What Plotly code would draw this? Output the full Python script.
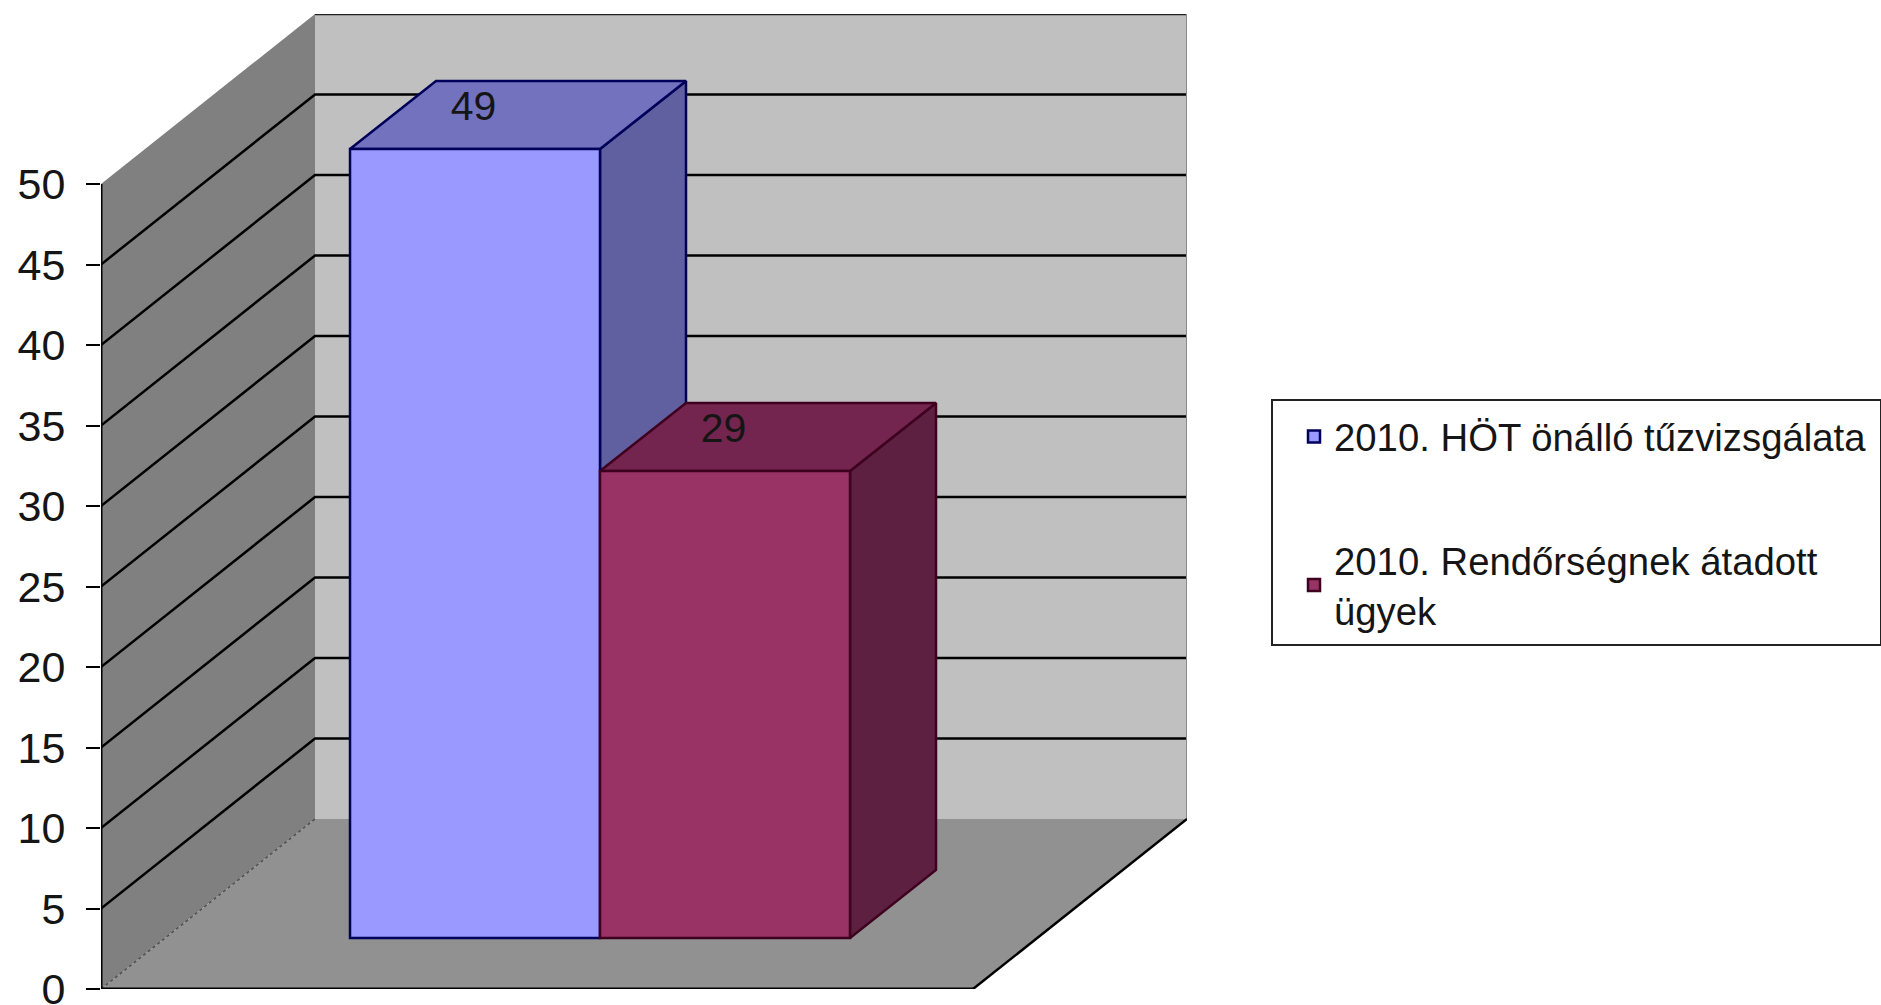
import plotly.graph_objects as go

# --- data ---
series_names = ["2010. HÖT önálló tűzvizsgálata", "2010. Rendőrségnek átadott<br>ügyek"]
series_values = [49, 29]
y_ticks = [0, 5, 10, 15, 20, 25, 30, 35, 40, 45, 50]
front_colors = ["#9999FF", "#993366"]
top_colors = ["#7272BE", "#74254F"]
side_colors = ["#6060A0", "#5E2040"]
edge_colors = ["#00005A", "#3F0020"]

# --- layout constants (pixels on the 1881x1005 page) ---
W, H = 1881, 1005
PX_LEFT, PX_RIGHT = 101, 1187      # plot area
PX_TOP, PX_ZERO = 14, 989
PX_CAT = 872                        # width of the category along the front edge
PX_UNIT = (989 - 184) / 50          # pixels per y unit

X_MAX = (PX_RIGHT - PX_LEFT) / PX_CAT
Y_MAX = (PX_ZERO - PX_TOP) / PX_UNIT
WALL_DX, WALL_DY = 214 / PX_CAT, 170 / PX_UNIT      # full depth of the chart
BASE_DX, BASE_DY = 64 / PX_CAT, 51 / PX_UNIT        # floor margin in front of bars
BAR_DX, BAR_DY = 86 / PX_CAT, 68 / PX_UNIT          # depth of a bar
BAR_W = 250 / PX_CAT
BAR_START = (350 - PX_LEFT - 64) / PX_CAT           # left of first bar on the front edge
FONT = "Liberation Sans, Arial, sans-serif"
FS_TICK = 43
FS_LEGEND = 38.3
FS_LABEL = 41
INK = "#151515"

fig = go.Figure()


def poly(xs, ys, fill, line=None, lw=0):
    fig.add_trace(go.Scatter(
        x=xs + xs[:1], y=ys + ys[:1], mode="lines", fill="toself", fillcolor=fill,
        line=dict(color=line or fill, width=lw if line else 0),
        showlegend=False, hoverinfo="skip"))


def polyline(xs, ys, color="#000000", width=2, dash="solid"):
    fig.add_trace(go.Scatter(
        x=xs, y=ys, mode="lines", line=dict(color=color, width=width, dash=dash),
        showlegend=False, hoverinfo="skip"))


top = max(y_ticks)
# walls and floor
poly([0, WALL_DX, WALL_DX, 0], [0, WALL_DY, top + WALL_DY, top], "#808080")
poly([WALL_DX, X_MAX, X_MAX, WALL_DX], [WALL_DY, WALL_DY, top + WALL_DY, top + WALL_DY], "#C0C0C0")
poly([0, 1, X_MAX, WALL_DX], [0, 0, WALL_DY, WALL_DY], "#919191")

# gridlines
for v in y_ticks[1:]:
    if v == top:
        polyline([WALL_DX, X_MAX], [v + WALL_DY, v + WALL_DY], "#222222", 2.5)
    else:
        polyline([0, WALL_DX, X_MAX], [v, v + WALL_DY, v + WALL_DY], "#000000", 2.5)

polyline([0, WALL_DX], [0, WALL_DY], "#505050", 1.5, "dot")
polyline([X_MAX, X_MAX], [WALL_DY, top + WALL_DY], "#8A8A8A", 2)
polyline([1, X_MAX], [0, WALL_DY], "#000000", 2.5)
polyline([0, 1], [0, 0], "#000000", 3)
polyline([0, 0], [0, top], "#000000", 3)

# bar side and top faces, back to front
bar_lefts = [BAR_START + i * BAR_W + BASE_DX for i in range(len(series_values))]
for i, v in enumerate(series_values):
    xl = bar_lefts[i]
    xr = xl + BAR_W
    yb = BASE_DY
    yt = v + BASE_DY
    poly([xr, xr + BAR_DX, xr + BAR_DX, xr], [yb, yb + BAR_DY, yt + BAR_DY, yt],
         side_colors[i], edge_colors[i], 2.5)
    poly([xl, xr, xr + BAR_DX, xl + BAR_DX], [yt, yt, yt + BAR_DY, yt + BAR_DY],
         top_colors[i], edge_colors[i], 2.5)

# bar front faces on an overlay so that they sit above the faces drawn as scatter
for i, v in enumerate(series_values):
    fig.add_trace(go.Bar(
        x=[bar_lefts[i] + BAR_W / 2], y=[v], base=[BASE_DY], width=[BAR_W],
        name=series_names[i], legendgroup=f"s{i}",
        marker=dict(color=front_colors[i], line=dict(color=edge_colors[i], width=2.5)),
        xaxis="x2", yaxis="y2"))

fig.add_trace(go.Scatter(
    x=[bar_lefts[i] + BAR_W / 2 - 1.5 / PX_CAT for i in range(len(series_values))],
    y=[v + BASE_DY + 2.45 for v in series_values],
    mode="text", text=[str(v) for v in series_values],
    textposition="middle center", textfont=dict(family=FONT, size=FS_LABEL, color=INK),
    showlegend=False, hoverinfo="skip", xaxis="x2", yaxis="y2"))

fig.update_layout(
    width=W, height=H, autosize=False,
    paper_bgcolor="#FFFFFF", plot_bgcolor="rgba(0,0,0,0)",
    margin=dict(l=PX_LEFT, r=W - PX_RIGHT, t=PX_TOP, b=H - PX_ZERO, pad=0, autoexpand=False),
    font=dict(family=FONT, size=FS_LEGEND, color=INK),
    barmode="overlay",
    xaxis=dict(range=[0, X_MAX], visible=False, fixedrange=True),
    yaxis=dict(range=[0, Y_MAX], tickvals=y_ticks, ticks="outside", ticklen=14, tickwidth=2,
               tickcolor="#000000", showgrid=False, zeroline=False, showline=False,
               ticklabelstandoff=12, ticklabeloverflow="allow",
               tickfont=dict(family=FONT, size=FS_TICK, color=INK),
               fixedrange=True),
    xaxis2=dict(range=[0, X_MAX], visible=False, overlaying="x", fixedrange=True),
    yaxis2=dict(range=[0, Y_MAX], visible=False, overlaying="y", fixedrange=True),
    legend=dict(
        x=(1294 - PX_LEFT) / (PX_RIGHT - PX_LEFT), xanchor="left",
        y=(PX_ZERO - 405) / (PX_ZERO - PX_TOP), yanchor="top",
        bgcolor="rgba(0,0,0,0)", borderwidth=0,
        font=dict(family=FONT, size=FS_LEGEND, color=INK),
        traceorder="grouped", tracegroupgap=71, itemclick=False, itemdoubleclick=False,
    ),
    showlegend=True,
    shapes=[dict(type="rect", xref="paper", yref="paper",
                 x0=(1272 - PX_LEFT) / (PX_RIGHT - PX_LEFT), x1=(W - PX_LEFT) / (PX_RIGHT - PX_LEFT),
                 y0=(PX_ZERO - 645) / (PX_ZERO - PX_TOP), y1=(PX_ZERO - 400) / (PX_ZERO - PX_TOP),
                 line=dict(color="#222222", width=2), fillcolor="rgba(0,0,0,0)", layer="below")],
)

fig.write_html("out.html", config={"displayModeBar": False},
               post_script="document.body.style.margin='0';document.body.style.overflow='hidden';")
